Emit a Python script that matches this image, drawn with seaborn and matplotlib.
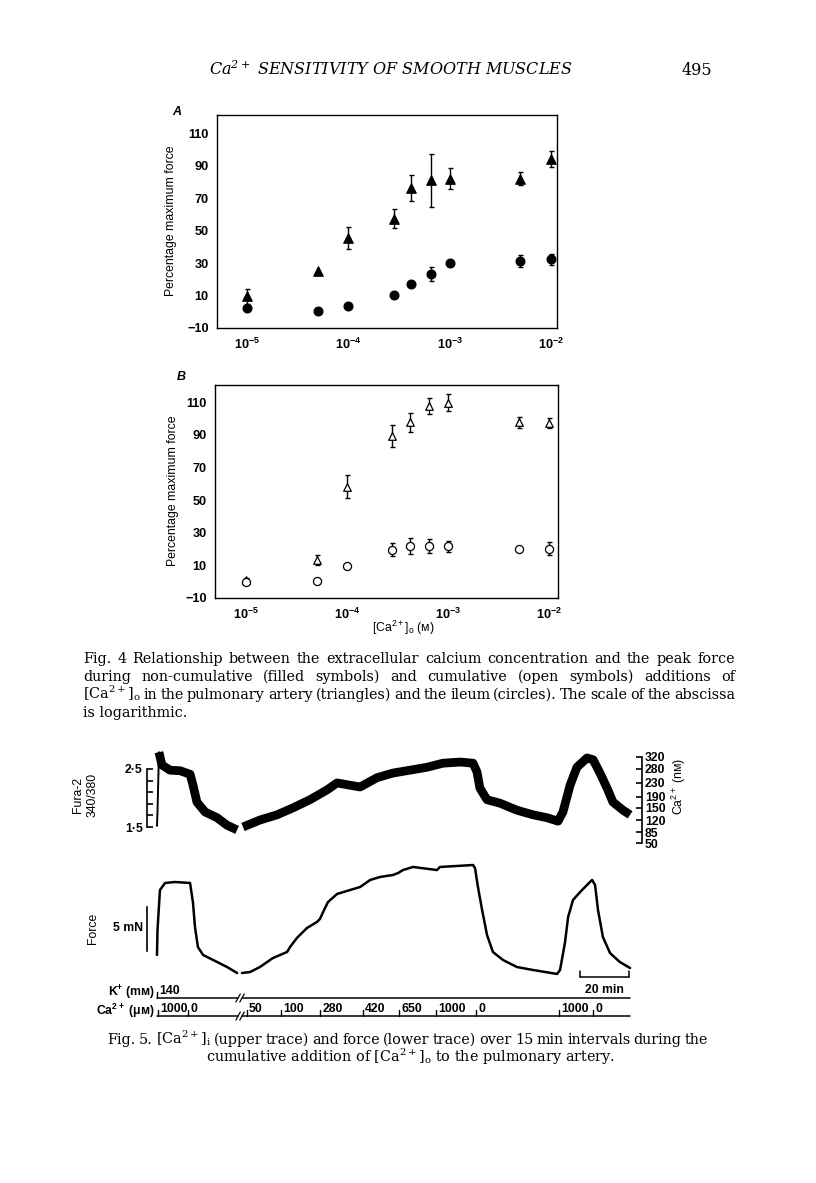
import numpy as np
import pandas as pd
import matplotlib
matplotlib.use("Agg")
import matplotlib.pyplot as plt
import matplotlib.transforms as mtransforms
from matplotlib.ticker import NullLocator
import seaborn as sns

# ---------------- data ----------------
# Fig. 4 : extracellular [Ca2+] (M)
ca_conc = [1e-5, 5e-5, 1e-4, 2.8e-4, 4.2e-4, 6.5e-4, 1e-3, 5e-3, 1e-2]

# A : non-cumulative additions (filled symbols)
a_artery_mean = [9.5, 25.3, 45.4, 57.3, 76.0, 80.9, 81.9, 82.0, 94.0]
a_artery_err = [4.5, 0.0, 6.5, 6.0, 8.0, 16.5, 6.5, 4.0, 5.0]
a_ileum_mean = [2.5, 0.5, 3.3, 10.5, 17.1, 23.2, 30.2, 31.2, 32.3]
a_ileum_err = [0.0, 0.0, 0.0, 0.0, 0.0, 4.4, 0.0, 3.5, 3.5]

# B : cumulative additions (open symbols)
b_artery_mean = [0.8, 13.1, 58.2, 89.3, 97.7, 107.7, 109.8, 97.7, 97.1]
b_artery_err = [1.5, 3.0, 7.0, 7.0, 6.0, 5.0, 5.0, 3.5, 3.0]
b_ileum_mean = [-0.2, 0.4, 9.7, 19.7, 21.7, 21.9, 21.7, 20.3, 20.3]
b_ileum_err = [0.0, 0.0, 0.0, 4.0, 4.8, 4.5, 3.5, 0.0, 4.0]

y_ticks = [-10, 10, 30, 50, 70, 90, 110]
x_ticks = [1e-5, 1e-4, 1e-3, 1e-2]
x_ticklabels = [r"$\mathregular{10^{-5}}$", r"$\mathregular{10^{-4}}$",
                r"$\mathregular{10^{-3}}$", r"$\mathregular{10^{-2}}$"]

# Fig. 5 : Fura-2 ratio trace (time in min); onset artefact, then two segments around the break
ratio_time_0 = [0.0, 0.2, 0.8]
ratio_val_0 = [1.52, 1.76, 2.79]
ratio_time_1 = [0.8, 2.0, 5.3, 9.4, 13.5, 14.7, 16.3, 19.6, 24.5, 28.6, 32.7]
ratio_val_1 = [2.79, 2.57, 2.48, 2.47, 2.41, 2.22, 1.93, 1.76, 1.66, 1.53, 1.45]
ratio_time_2 = [35.1, 42.0, 49.0, 55.5, 62.4, 69.4, 73.5, 78.8, 82.9, 89.8, 96.3, 103.3,
                110.2, 116.7, 123.7, 129.0, 130.6, 131.8, 134.7, 140.0, 146.9, 153.5,
                159.2, 163.7, 165.7, 168.6, 171.4, 175.5, 178.0, 180.8, 183.7, 186.1,
                190.2, 193.1]
ratio_val_2 = [1.50, 1.62, 1.71, 1.83, 1.97, 2.14, 2.26, 2.22, 2.19, 2.35, 2.43, 2.48,
               2.53, 2.60, 2.62, 2.60, 2.45, 2.17, 1.97, 1.91, 1.79, 1.71,
               1.66, 1.60, 1.76, 2.22, 2.53, 2.69, 2.66, 2.43, 2.17, 1.93,
               1.79, 1.71]

# Fig. 5 : force trace (mN above baseline)
force_time_1 = [0.0, 0.2, 1.2, 3.3, 7.3, 13.5, 14.7, 15.5, 16.7, 18.8, 22.9, 28.6, 32.7]
force_val_1 = [2.05, 4.89, 9.43, 10.23, 10.34, 10.23, 7.95, 5.23, 2.95, 2.05, 1.48, 0.68, 0.0]
force_time_2 = [34.7, 38.0, 42.0, 47.3, 53.1, 54.3, 57.1, 61.2, 65.3, 66.5, 67.8, 69.8,
                73.5, 78.8, 82.9, 87.0, 91.0, 96.3, 98.4, 100.4, 104.5, 114.3, 115.5,
                129.0, 129.8, 131.0, 132.7, 134.7, 137.1, 141.2, 146.9, 153.5, 163.3,
                164.5, 166.5, 167.8, 169.8, 172.7, 176.7, 177.6, 178.8, 180.0, 182.0,
                184.9, 188.9, 193.1]
force_val_2 = [0.0, 0.11, 0.68, 1.70, 2.39, 2.95, 3.98, 5.11, 5.80, 6.14, 6.93, 8.07,
               8.98, 9.43, 9.77, 10.57, 10.91, 11.14, 11.36, 11.70, 12.05, 11.70, 12.05,
               12.27, 11.93, 9.77, 7.16, 4.32, 2.39, 1.48, 0.68, 0.34, -0.11,
               0.34, 3.41, 6.36, 8.30, 9.20, 10.34, 10.57, 10.0, 7.16, 4.09,
               2.27, 1.25, 0.57]

# calibration of right-hand scale: [Ca2+]i (nM) at ratio positions
ca_nm_labels = ["320", "280", "230", "190", "150", "120", "85", "50"]
ca_nm_ratio = [2.71, 2.50, 2.26, 2.02, 1.83, 1.62, 1.41, 1.22]
ratio_ticks = [1.5, 1.7, 1.9, 2.1, 2.3, 2.5]
ratio_ticklabels = ["1\u00b75", "", "", "", "", "2\u00b75"]

# protocol
k_step_time = [0.0]
k_step_label = ["140"]
ca_step_time = [0.4, 12.7, 36.7, 50.6, 66.5, 84.1, 98.8, 113.9, 130.2, 164.1, 177.9]
ca_step_label = ["1000", "0", "50", "100", "280", "420", "650", "1000", "0", "1000", "0"]
protocol_end = 193.1
break_start, break_end = 33.1, 34.7
scale_bar_min = 20
scale_bar_start = 172.7
force_bar_mN = 5

SMALLCAP_M = "\u1d0d"

# ---------------- style ----------------
sns.set_theme(style="white")
plt.rcParams["font.family"] = ["Liberation Sans", "DejaVu Sans"]
plt.rcParams["axes.edgecolor"] = "black"
plt.rcParams["axes.linewidth"] = 1.0
plt.rcParams["xtick.color"] = "black"
plt.rcParams["ytick.color"] = "black"
plt.rcParams["text.color"] = "black"

W, H = 816, 1183
fig = plt.figure(figsize=(W / 100, H / 100), dpi=100)
fig.patch.set_facecolor("white")


def fx(px):
    return px / W


def fy(py):
    return 1 - py / H


def box(l, t, r, b):
    return [fx(l), fy(b), (r - l) / W, (b - t) / H]


SERIF = ["DejaVu Serif"]
SANS = ["Liberation Sans", "DejaVu Sans"]
renderer = fig.canvas.get_renderer()

# ---------------- header ----------------
fig.text(fx(391), fy(75), r"Ca$^{\mathregular{2+}}$ SENSITIVITY OF SMOOTH MUSCLES",
         family=SERIF, style="italic", fontsize=11.5, ha="center", va="baseline")
fig.text(fx(697), fy(75), "495", family=SERIF, fontsize=11.5, ha="center", va="baseline")


# ---------------- Fig. 4 panels ----------------
def panel(ax, art, art_err, ile, ile_err, filled, xlo, xhi, ytop):
    ax.set_xscale("log")
    face = "black" if filled else "white"
    for mean, err in ((art, art_err), (ile, ile_err)):
        xs = [c for c, e in zip(ca_conc, err) if e > 0]
        ys = [m for m, e in zip(mean, err) if e > 0]
        es = [e for e in err if e > 0]
        ax.errorbar(xs, ys, yerr=es, fmt="none", ecolor="black", elinewidth=1.0,
                    capsize=1.8, capthick=1.0, zorder=2)
    df_a = pd.DataFrame({"conc": ca_conc, "force": art})
    df_i = pd.DataFrame({"conc": ca_conc, "force": ile})
    sns.scatterplot(data=df_a, x="conc", y="force", marker="^",
                    s=46 if filled else 30, color=face, edgecolor="black",
                    linewidth=0.9, ax=ax, zorder=3, legend=False, clip_on=False)
    sns.scatterplot(data=df_i, x="conc", y="force", marker="o",
                    s=40 if filled else 34, color=face, edgecolor="black",
                    linewidth=0.9, ax=ax, zorder=3, legend=False, clip_on=False)
    ax.set_xlim(10 ** xlo, 10 ** xhi)
    ax.set_ylim(-10, ytop)
    ax.set_xticks(x_ticks)
    ax.set_xticklabels(x_ticklabels)
    ax.xaxis.set_minor_locator(NullLocator())
    ax.set_yticks(y_ticks)
    ax.set_yticklabels([str(v).replace("-", "\u2212") for v in y_ticks])
    ax.tick_params(axis="both", which="major", direction="inout", length=6, width=1.0,
                   labelsize=9.2, pad=3)
    for lab in ax.get_xticklabels() + ax.get_yticklabels():
        lab.set_fontweight("bold")
    ax.set_xlabel("")
    ax.set_ylabel("")
    for s in ax.spines.values():
        s.set_visible(True)
        s.set_linewidth(1.0)
        s.set_color("black")
    ax.set_facecolor("white")


axA = fig.add_axes(box(217, 115, 557, 328))
panel(axA, a_artery_mean, a_artery_err, a_ileum_mean, a_ileum_err, True, -5.296, -1.94, 121.1)
axB = fig.add_axes(box(215, 385, 558, 598))
panel(axB, b_artery_mean, b_artery_err, b_ileum_mean, b_ileum_err, False, -5.307, -1.91, 120.6)

fig.text(fx(177), fy(112), "A", fontsize=9, style="italic", fontweight="bold",
         ha="center", va="center")
fig.text(fx(181), fy(377), "B", fontsize=9, style="italic", fontweight="bold",
         ha="center", va="center")
fig.text(fx(171), fy(221), "Percentage maximum force", rotation=90, fontsize=8.8,
         ha="center", va="center")
fig.text(fx(173), fy(491), "Percentage maximum force", rotation=90, fontsize=8.8,
         ha="center", va="center")
fig.text(fx(403), fy(628), r"[Ca$^{\mathregular{2+}}$]$_{\mathregular{o}}$ (" + SMALLCAP_M + ")",
         fontsize=8.8, ha="center", va="center", family=SANS)


# ---------------- justified caption helper ----------------
def justified(line, x0, x1, py, fs):
    words = line.split(" ")
    ts = [fig.text(0, fy(py), w, family=SERIF, fontsize=fs, va="baseline", ha="left")
          for w in words]
    ws = [t.get_window_extent(renderer=renderer).width for t in ts]
    gap = ((x1 - x0) - sum(ws)) / max(len(ws) - 1, 1)
    x = x0
    for t, w in zip(ts, ws):
        t.set_x(fx(x))
        x += w + gap


LINE1 = "Fig. 4 Relationship between the extracellular calcium concentration and the peak force"
CAP_FS = 12.5
probe = fig.text(0, 0, LINE1, family=SERIF, fontsize=CAP_FS)
while probe.get_window_extent(renderer=renderer).width > 640 and CAP_FS > 8:
    CAP_FS -= 0.1
    probe.set_fontsize(CAP_FS)
probe.remove()

justified(LINE1, 83, 735, 663, CAP_FS)
justified("during non-cumulative (filled symbols) and cumulative (open symbols) additions of",
          83, 735, 681, CAP_FS)
justified(r"[Ca$^{\mathregular{2+}}$]$_{\mathregular{o}}$ in the pulmonary artery (triangles) and the ileum (circles). The scale of the abscissa",
          83, 735, 699, CAP_FS)
fig.text(fx(83), fy(717), "is logarithmic.", family=SERIF, fontsize=CAP_FS, va="baseline")

justified(r"Fig. 5. [Ca$^{\mathregular{2+}}$]$_{\mathregular{i}}$ (upper trace) and force (lower trace) over 15 min intervals during the",
          107, 708, 1044, CAP_FS)
fig.text(fx(410), fy(1062), r"cumulative addition of [Ca$^{\mathregular{2+}}$]$_{\mathregular{o}}$ to the pulmonary artery.",
         family=SERIF, fontsize=CAP_FS, va="baseline", ha="center")

# ---------------- Fig. 5 : ratio trace ----------------
T0 = (140 - 157) / 2.45
T1 = (680 - 157) / 2.45
left_bracket_t = (147 - 157) / 2.45
right_bracket_t = (642 - 157) / 2.45

ax5a = fig.add_axes(box(140, 745, 680, 860))
df_ratio = pd.DataFrame({
    "t": ratio_time_1 + ratio_time_2,
    "r": ratio_val_1 + ratio_val_2,
    "seg": [1] * len(ratio_time_1) + [2] * len(ratio_time_2),
})
sns.lineplot(x=ratio_time_0, y=ratio_val_0, estimator=None, sort=False, color="black",
             linewidth=1.4, ax=ax5a, legend=False)
sns.lineplot(data=df_ratio, x="t", y="r", units="seg", estimator=None, sort=False,
             color="black", linewidth=6.3, ax=ax5a, legend=False,
             solid_joinstyle="round", solid_capstyle="butt")
ax5a.set_xlim(T0, T1)
ax5a.set_ylim(2.5 - (860 - 769) / 58, 2.5 + (769 - 745) / 58)
for side in ("top", "right", "bottom"):
    ax5a.spines[side].set_visible(False)
ax5a.spines["left"].set_position(("data", left_bracket_t))
ax5a.spines["left"].set_bounds(1.5, 2.5)
ax5a.spines["left"].set_linewidth(1.2)
ax5a.set_yticks(ratio_ticks)
ax5a.set_yticklabels(ratio_ticklabels)
ax5a.set_xticks([])
ax5a.tick_params(axis="y", direction="in", length=4, width=1.2, labelsize=8.8, pad=3)
for lab in ax5a.get_yticklabels():
    lab.set_fontweight("bold")
ax5a.set_xlabel("")
ax5a.set_ylabel("")
ax5a.patch.set_alpha(0)

ax5r = ax5a.twinx()
ax5r.set_ylim(ax5a.get_ylim())
for side in ("top", "left", "bottom"):
    ax5r.spines[side].set_visible(False)
ax5r.spines["right"].set_position(("data", right_bracket_t))
ax5r.spines["right"].set_bounds(min(ca_nm_ratio), max(ca_nm_ratio))
ax5r.spines["right"].set_linewidth(1.2)
ax5r.set_yticks(ca_nm_ratio)
ax5r.set_yticklabels(ca_nm_labels)
ax5r.tick_params(axis="y", direction="in", length=4, width=1.2, labelsize=8.8, pad=2)
for lab in ax5r.get_yticklabels():
    lab.set_fontweight("bold")
ax5r.patch.set_alpha(0)

fig.text(fx(78), fy(795), "Fura-2", rotation=90, fontsize=8.8, ha="center", va="center")
fig.text(fx(93), fy(795), "340/380", rotation=90, fontsize=8.8, ha="center", va="center")
fig.text(fx(679), fy(786), "Ca$^{\\mathregular{2+}}$ (n" + SMALLCAP_M + ")", rotation=90,
         fontsize=8.8, ha="center", va="center", family=SANS)

# ---------------- Fig. 5 : force trace ----------------
ax5b = fig.add_axes(box(140, 860, 680, 1025))
df_force = pd.DataFrame({
    "t": force_time_1 + force_time_2,
    "f": force_val_1 + force_val_2,
    "seg": [1] * len(force_time_1) + [2] * len(force_time_2),
})
sns.lineplot(data=df_force, x="t", y="f", units="seg", estimator=None, sort=False,
             color="black", linewidth=1.8, ax=ax5b, legend=False)
ax5b.set_xlim(T0, T1)
ax5b.set_ylim((973 - 1025) / 8.8, (973 - 860) / 8.8)
for side in ("top", "right", "bottom"):
    ax5b.spines[side].set_visible(False)
ax5b.spines["left"].set_position(("data", left_bracket_t))
ax5b.spines["left"].set_bounds(2.5, 2.5 + force_bar_mN)
ax5b.spines["left"].set_linewidth(1.2)
ax5b.set_yticks([2.5, 2.5 + force_bar_mN])
ax5b.set_yticklabels(["", ""])
ax5b.set_xticks([])
ax5b.tick_params(axis="y", direction="in", length=4, width=1.2)
ax5b.set_xlabel("")
ax5b.set_ylabel("")
ax5b.patch.set_alpha(0)

fig.text(fx(93), fy(928), "Force", rotation=90, fontsize=8.8, ha="center", va="center")
fig.text(fx(143), fy(928), "5 mN", fontsize=8.8, ha="right", va="center", fontweight="bold")

# 20 min scale bar
bar_y = (973 - 977) / 8.8
bar_tick = (973 - 971) / 8.8
ax5b.plot([scale_bar_start, scale_bar_start + scale_bar_min], [bar_y, bar_y],
          color="black", lw=1.1, clip_on=False)
for tb in (scale_bar_start, scale_bar_start + scale_bar_min):
    ax5b.plot([tb, tb], [bar_y, bar_tick], color="black", lw=1.1, clip_on=False)
bt = mtransforms.blended_transform_factory(ax5b.transData, fig.transFigure)
ax5b.text(scale_bar_start + scale_bar_min / 2, fy(990), f"{scale_bar_min} min", transform=bt,
          fontsize=8.8, fontweight="bold", ha="center", va="center")


# protocol rows
def protocol_row(py, times, labels):
    for a, b in ((0.0, break_start), (break_end, protocol_end)):
        ax5b.plot([a, b], [fy(py), fy(py)], transform=bt, color="black", lw=1.1,
                  clip_on=False)
    for tb in (break_start, break_end):
        ax5b.plot([tb - 0.9, tb + 0.9], [fy(py + 4), fy(py - 4)], transform=bt,
                  color="black", lw=0.9, clip_on=False)
    for t, lab in zip(times, labels):
        ax5b.plot([t, t], [fy(py), fy(py - 6)], transform=bt, color="black", lw=1.0,
                  clip_on=False)
        ax5b.text(t + 0.9, fy(py - 1.5), lab, transform=bt, fontsize=8.8,
                  fontweight="bold", ha="left", va="bottom")


protocol_row(998, k_step_time, k_step_label)
protocol_row(1016, ca_step_time, ca_step_label)
ax5b.set_xlim(T0, T1)
ax5b.set_ylim((973 - 1025) / 8.8, (973 - 860) / 8.8)

fig.text(fx(155), fy(996.5), "K$^{\\mathregular{+}}$ (m" + SMALLCAP_M + ")", fontsize=8.8,
         fontweight="bold", ha="right", va="baseline", family=SANS)
fig.text(fx(155), fy(1014.5), "Ca$^{\\mathregular{2+}}$ (\u03bc" + SMALLCAP_M + ")", fontsize=8.8,
         fontweight="bold", ha="right", va="baseline", family=SANS)

fig.savefig("out.png", dpi=100, facecolor="white")
